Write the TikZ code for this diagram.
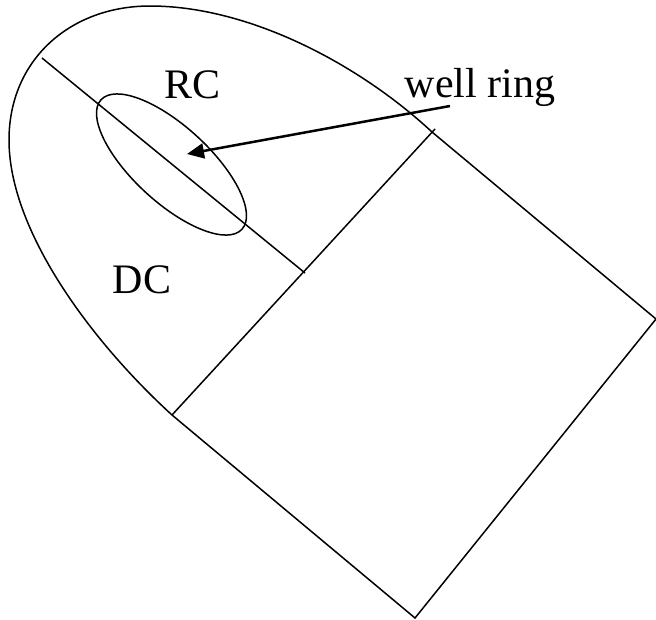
\documentclass[tikz,border=0pt]{standalone}
\usepackage{fontspec}
\usetikzlibrary{arrows.meta}
\setmainfont{Liberation Serif}
\tikzset{lbl/.style={font=\fontsize{42pt}{46pt}\selectfont,inner sep=0pt,anchor=base},ln/.style={line width=1.5pt,black}}
\begin{document}
\begin{tikzpicture}[x=1pt,y=-1pt]
\useasboundingbox (0,0) rectangle (656,619);
\coordinate (a) at (435,129);
\coordinate (b) at (656,319);
\coordinate (c) at (415,618);
\coordinate (d) at (172,415);
\coordinate (e) at (305,273);
\coordinate (f) at (42,58);
\coordinate (g) at (432,132);
\draw[ln] (g) -- (b) -- (c) -- (d);
\draw[ln] (a) -- (d);
\draw[ln] (f) -- (e);
\draw[ln] (g) .. controls (360,65) and (250,6) .. (150,6)
  .. controls (70,6) and (9,60) .. (9,140)
  .. controls (9,230) and (90,340) .. (d);
\draw[ln,rotate around={-42.6:(171.5,164.5)}] (171.5,164.5) ellipse (95.7 and 38);
\node[lbl] (rc) at (192.5,98) {RC};
\node[lbl] (dc) at (142,293) {DC};
\node[lbl] (wr) at (480,97) {well ring};
\coordinate (s) at (450,106);
\coordinate (t) at (187,154);
\draw[line width=2.5pt,-{Triangle[length=17pt,width=15pt]}] (s) -- (t);
\end{tikzpicture}
\end{document}
